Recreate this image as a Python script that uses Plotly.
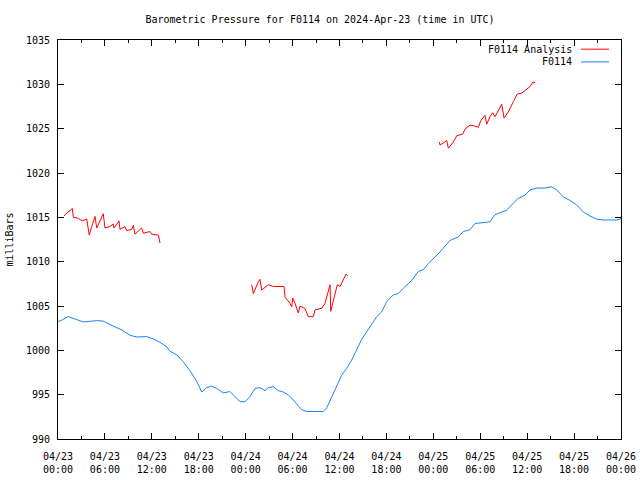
import pandas as pd
import plotly.graph_objects as go

base = pd.Timestamp("2024-04-23 00:00")

# F0114 observed (hours since 2024-04-23 00:00 UTC, mb)
obs_hours = [0.0, 0.26, 1.32, 3.24, 4.95, 5.76, 6.65, 8.15, 9.21, 10.07, 11.34, 12.15, 13.05, 13.90, 14.32,
             15.18, 16.03, 16.88, 17.74, 18.38, 19.02, 19.66, 20.30, 21.14, 22.0, 22.42, 23.28, 23.92,
             24.56, 25.20, 25.83, 26.47, 26.90, 27.54, 28.17, 28.81, 29.45, 29.89, 30.53, 31.17, 31.81,
             33.09, 33.93, 34.36, 35.0, 35.64, 36.28, 36.92, 37.56, 38.84, 39.90, 40.76, 41.40, 42.04,
             42.88, 43.52, 44.16, 45.24, 46.08, 46.72, 47.36, 48.86, 50.13, 51.20, 51.84, 52.69, 53.33,
             54.39, 55.25, 55.89, 56.75, 57.38, 58.23, 58.87, 59.73, 60.37, 61.22, 62.28, 63.05, 63.78,
             64.62, 65.48, 66.34, 67.18, 68.04, 68.90, 69.74, 71.45, 71.88, 72.0]
obs_mb = [1003.3, 1003.3, 1003.8, 1003.2, 1003.35, 1003.3, 1002.9, 1002.3, 1001.7, 1001.5, 1001.55, 1001.3,
          1000.9, 1000.4, 999.9, 999.5, 998.7, 997.7, 996.5, 995.3, 995.8, 995.95, 995.7, 995.2, 995.35,
          994.96, 994.2, 994.2, 994.8, 995.7, 995.8, 995.45, 995.8, 995.9, 995.45, 995.3, 994.96, 994.6,
          993.9, 993.3, 993.1, 993.1, 993.1, 993.5, 994.8, 995.9, 997.2, 997.97, 998.9, 1001.25, 1002.7,
          1003.8, 1004.35, 1005.5, 1006.25, 1006.4, 1007.0, 1007.9, 1008.9, 1009.1, 1009.8, 1011.1,
          1012.4, 1012.8, 1013.4, 1013.6, 1014.3, 1014.45, 1014.5, 1015.3, 1015.6, 1015.8, 1016.6,
          1017.15, 1017.5, 1018.1, 1018.3, 1018.3, 1018.45, 1018.1, 1017.3, 1016.9, 1016.4, 1015.6,
          1015.15, 1014.8, 1014.7, 1014.7, 1014.8, 1014.9]

# F0114 Analysis (three separate segments; None breaks the line)
ana_hours = [0.77, 1.11, 1.53, 1.83, 1.96, 2.60, 2.90, 3.11, 3.67, 4.0, 4.31, 4.73, 4.95, 5.79, 6.01, 6.65,
             7.07, 7.16, 7.80, 7.93, 8.57, 8.79, 9.43, 9.63, 9.85, 10.27, 10.70, 10.91, 11.77, 11.98,
             12.62, 12.83, 13.05,
             18.0,
             24.77, 24.98, 25.62, 25.83, 26.05, 26.90, 27.54, 28.39, 28.74, 28.91, 29.03, 29.67, 29.89,
             30.02, 30.31, 30.73, 30.95, 31.59, 32.01, 32.65, 32.87, 33.73, 34.15, 34.57, 34.79, 34.88,
             35.43, 35.72, 36.07, 36.83, 37.05,
             42.0,
             48.77, 48.86, 49.71, 49.92, 50.56, 50.99, 51.76, 52.05, 52.69, 53.11, 53.75, 54.06, 54.61,
             54.82, 55.25, 55.59, 55.89, 56.31, 56.75, 57.04, 57.59, 58.23, 58.74, 59.30, 59.94, 60.37,
             60.72, 61.01]
ana_mb = [1015.15, 1015.5, 1015.75, 1016.0, 1015.0, 1014.9, 1014.7, 1014.6, 1014.8, 1013.0, 1013.95,
          1015.1, 1013.8, 1015.4, 1013.8, 1013.95, 1014.25, 1013.8, 1014.6, 1013.65, 1013.95, 1013.5,
          1013.65, 1014.1, 1013.1, 1013.4, 1013.8, 1013.2, 1013.4, 1013.1, 1013.0, 1013.0, 1012.1,
          None,
          1007.4, 1006.4, 1007.75, 1008.0, 1006.8, 1007.4, 1007.2, 1007.2, 1007.25, 1007.2, 1006.0,
          1005.3, 1004.9, 1005.9, 1005.3, 1004.2, 1005.0, 1004.7, 1003.8, 1003.8, 1004.55, 1004.75,
          1005.3, 1006.8, 1007.4, 1004.4, 1006.6, 1007.4, 1007.2, 1008.6, 1008.4,
          None,
          1023.5, 1023.15, 1023.65, 1022.8, 1023.5, 1024.2, 1024.4, 1024.95, 1025.4, 1025.35, 1025.15,
          1025.9, 1026.5, 1025.5, 1026.35, 1026.8, 1026.35, 1027.1, 1027.75, 1026.2, 1026.9, 1028.05,
          1028.9, 1029.0, 1029.45, 1029.75, 1030.25, 1030.2]

tick_hours = [0, 6, 12, 18, 24, 30, 36, 42, 48, 54, 60, 66, 72]
tick_labels = ["04/23<br>00:00", "04/23<br>06:00", "04/23<br>12:00", "04/23<br>18:00",
               "04/24<br>00:00", "04/24<br>06:00", "04/24<br>12:00", "04/24<br>18:00",
               "04/25<br>00:00", "04/25<br>06:00", "04/25<br>12:00", "04/25<br>18:00",
               "04/26<br>00:00"]
y_ticks = [990, 995, 1000, 1005, 1010, 1015, 1020, 1025, 1030, 1035]

def to_time(hours):
    return [base + pd.Timedelta(hours=h) for h in hours]

FONT = "DejaVu Sans Mono"
RED = "#FF0000"
BLUE = "#1A84F5"

fig = go.Figure()
fig.add_trace(go.Scatter(x=to_time(ana_hours), y=ana_mb, mode="lines", name="F0114 Analysis",
                         line=dict(color=RED, width=1), connectgaps=False))
fig.add_trace(go.Scatter(x=to_time(obs_hours), y=obs_mb, mode="lines", name="F0114",
                         line=dict(color=BLUE, width=1)))

# legend drawn gnuplot-style: text right-aligned, sample line to its right
legend_items = [("F0114 Analysis", RED, 0.977), ("F0114", BLUE, 0.945)]
for text, col, yp in legend_items:
    fig.add_annotation(x=0.9165, y=yp, xref="paper", yref="paper", text=text, showarrow=False,
                       xanchor="right", yanchor="middle", font=dict(family=FONT, size=10, color="black"))
    fig.add_shape(type="line", xref="paper", yref="paper", x0=0.929, x1=0.9787, y0=yp, y1=yp,
                  line=dict(color=col, width=1))

fig.update_layout(
    width=640, height=480,
    margin=dict(l=58, r=19, t=40, b=41),
    paper_bgcolor="white", plot_bgcolor="white",
    showlegend=False,
    font=dict(family=FONT, size=10, color="black"),
    title=dict(text="Barometric Pressure for F0114 on 2024-Apr-23 (time in UTC)", x=0.5, xanchor="center",
               y=1 - 19 / 480, yanchor="middle", font=dict(family=FONT, size=10)),
)
fig.update_xaxes(
    range=[base, base + pd.Timedelta(hours=72)],
    tickvals=to_time(tick_hours), ticktext=tick_labels,
    ticks="inside", ticklen=6, tickcolor="black", tickwidth=1,
    minor=dict(dtick=3 * 3600 * 1000, tick0=base, ticks="inside", ticklen=3, tickcolor="black"),
    showline=True, linecolor="black", linewidth=1, mirror="allticks",
    showgrid=False, zeroline=False, tickangle=0, automargin=False,
    ticklabelstandoff=8,
    tickfont=dict(family=FONT, size=10),
)
fig.update_yaxes(
    range=[990, 1035], tickvals=y_ticks,
    ticks="inside", ticklen=6, tickcolor="black", tickwidth=1,
    showline=True, linecolor="black", linewidth=1, mirror="allticks",
    showgrid=False, zeroline=False, automargin=False,
    ticklabelstandoff=5,
    title=dict(text="milliBars", font=dict(family=FONT, size=10), standoff=10),
    tickfont=dict(family=FONT, size=10),
)

fig.write_html("out.html", config={"displayModeBar": False},
               post_script="document.body.style.margin='0px';")
